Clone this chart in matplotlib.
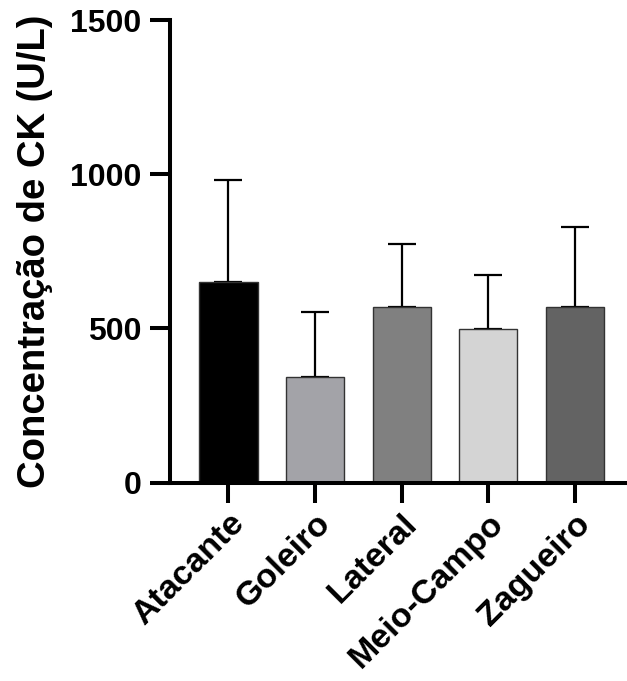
import matplotlib
matplotlib.use("Agg")
import matplotlib.pyplot as plt
import numpy as np

categories = ["Atacante", "Goleiro", "Lateral", "Meio-Campo", "Zagueiro"]
means = [651, 343, 570, 497, 570]
sd = [331, 210, 204, 176, 259]
colors = ["#000000", "#a3a3a8", "#808080", "#d4d4d4", "#636363"]
yticks = [0, 500, 1000, 1500]
ylabel = "Concentração de CK (U/L)"

plt.rcParams['font.family'] = ['Liberation Sans', 'DejaVu Sans']
plt.rcParams['font.weight'] = 'bold'

W, H = 627, 681
fig = plt.figure(figsize=(W / 100, H / 100), dpi=100)
left, right, top, bottom = 170, 627, 20, 482.5
ax = fig.add_axes([left / W, 1 - bottom / H, (right - left) / W, (bottom - top) / H])

x = np.arange(len(categories))
ax.bar(x, means, width=0.67, color=colors, edgecolor="#333333", linewidth=1.0, zorder=2)
ax.errorbar(x, means, yerr=[np.zeros(len(sd)), sd], fmt="none", ecolor="black",
            elinewidth=1.6, capsize=10, capthick=1.6, zorder=1)

ax.set_ylim(0, 1500)
ax.set_xlim(-0.675, 4.6)
ax.set_yticks(yticks)
ax.set_yticklabels([str(v) for v in yticks], fontsize=23, fontweight='bold')
ax.set_xticks(x)
ax.set_xticklabels(categories, rotation=45, ha='right', rotation_mode='anchor',
                   fontsize=24.5, fontweight='bold')

for s in ["top", "right"]:
    ax.spines[s].set_visible(False)
for s in ["left", "bottom"]:
    ax.spines[s].set_linewidth(2.9)
ax.tick_params(axis='both', width=2.9, length=14.4, pad=4)
ax.tick_params(axis='y', pad=6)

ax.set_ylabel(ylabel, fontsize=27.5, fontweight='bold')
ax.yaxis.set_label_coords(-0.255, 0.5)

fig.savefig("out.png", dpi=100)
